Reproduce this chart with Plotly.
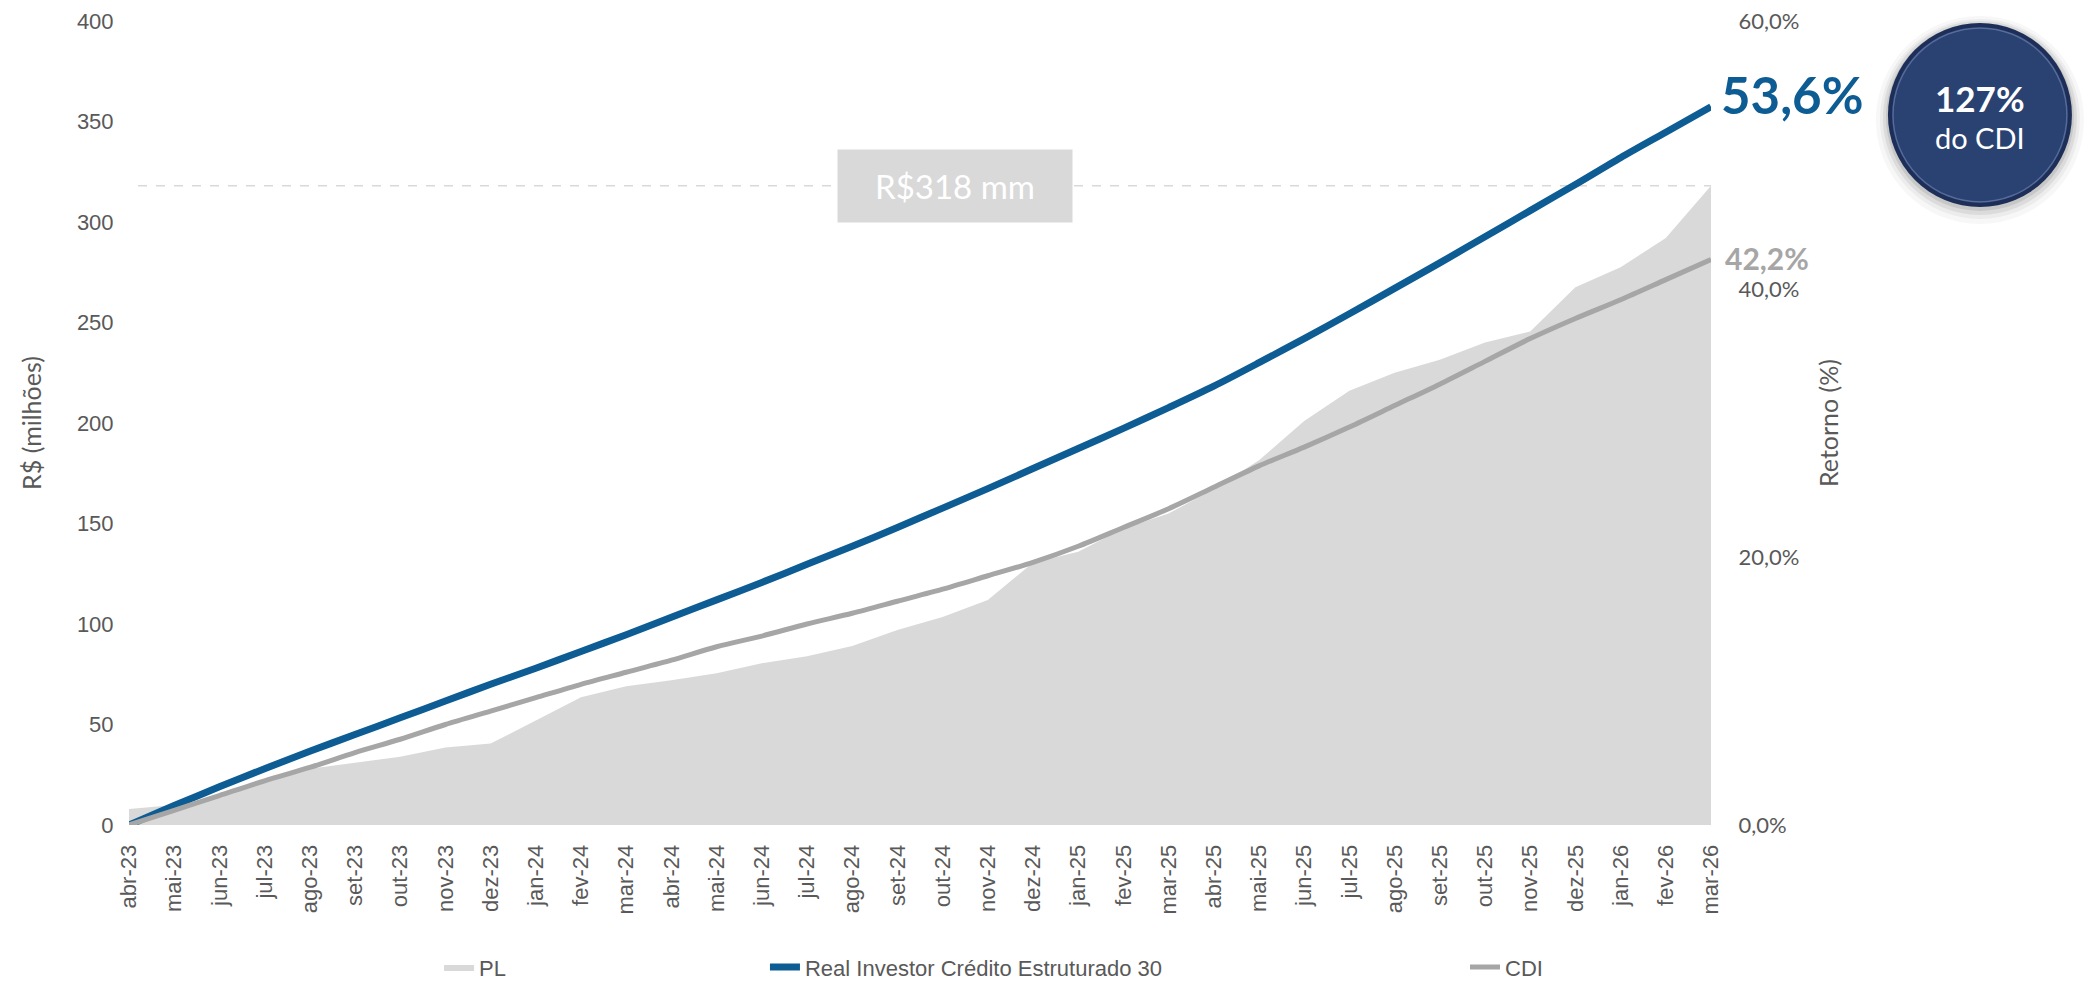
import plotly.graph_objects as go

months = ["abr-23","mai-23","jun-23","jul-23","ago-23","set-23","out-23","nov-23","dez-23",
          "jan-24","fev-24","mar-24","abr-24","mai-24","jun-24","jul-24","ago-24","set-24",
          "out-24","nov-24","dez-24","jan-25","fev-25","mar-25","abr-25","mai-25","jun-25",
          "jul-25","ago-25","set-25","out-25","nov-25","dez-25","jan-26","fev-26","mar-26"]

pl = [8, 10, 14, 21, 28, 31, 34, 38.5, 40.5, 52, 63.5, 69, 72, 75.5, 80.5, 84, 89, 97,
      103.5, 112, 130.5, 136, 147.5, 155, 167, 181.5, 201, 216, 225, 231.5, 240, 245.5,
      267.5, 277.5, 292, 318]

real = [0, 1.45, 2.85, 4.2, 5.5, 6.75, 8.0, 9.25, 10.5, 11.7, 12.95, 14.2, 15.5, 16.8, 18.1,
        19.45, 20.8, 22.2, 23.65, 25.1, 26.6, 28.1, 29.6, 31.15, 32.75, 34.5, 36.3, 38.15,
        40.05, 41.95, 43.9, 45.85, 47.8, 49.8, 51.7, 53.6]

cdi = [0, 1.1, 2.2, 3.3, 4.3, 5.4, 6.4, 7.5, 8.5, 9.5, 10.5, 11.4, 12.3, 13.3, 14.1, 15.0,
       15.8, 16.7, 17.6, 18.6, 19.6, 20.8, 22.2, 23.6, 25.2, 26.8, 28.2, 29.7, 31.3, 32.9,
       34.6, 36.3, 37.8, 39.2, 40.7, 42.2]

left_ticks = [0, 50, 100, 150, 200, 250, 300, 350, 400]
right_ticks = [0, 20, 40, 60]

BLUE = "#0D5C93"
GRAY = "#A6A6A6"
PLFILL = "#D9D9D9"
TXT = "#595959"
NAVY = "#2A4272"


def pct(v):
    return f"{v:.1f}%".replace(".", ",")


fig = go.Figure()
fig.add_trace(go.Scatter(x=months, y=pl, name="PL", mode="lines", fill="tozeroy",
                         fillcolor=PLFILL, line=dict(width=0, color=PLFILL),
                         legend="legend"))
fig.add_trace(go.Scatter(x=months, y=real, name="Real Investor Crédito Estruturado 30",
                         mode="lines", yaxis="y2",
                         line=dict(color=BLUE, width=7, shape="spline", smoothing=0.8),
                         legend="legend2"))
fig.add_trace(go.Scatter(x=months, y=cdi, name="CDI", mode="lines", yaxis="y2",
                         line=dict(color=GRAY, width=5, shape="spline", smoothing=0.8),
                         legend="legend3"))

ratio = round(real[-1] / cdi[-1] * 100)

shapes = [
    dict(type="line", xref="paper", yref="y", x0=0.0057, x1=1.0, y0=pl[-1], y1=pl[-1],
         line=dict(color="#D9D9D9", width=1.5, dash="dash"), layer="below"),
]
# badge: shadow + rim + fill
bx, by = 1.170, 0.8832
for r, op, dy in [(104, 0.04, -5), (100, 0.06, -4), (97, 0.09, -3), (94, 0.12, -2)]:
    shapes.append(dict(type="circle", xref="paper", yref="paper", xsizemode="pixel",
                       ysizemode="pixel", xanchor=bx, yanchor=by, x0=-r, x1=r,
                       y0=-r + dy, y1=r + dy, fillcolor=f"rgba(60,60,60,{op})",
                       line=dict(width=0)))
shapes.append(dict(type="circle", xref="paper", yref="paper", xsizemode="pixel",
                   ysizemode="pixel", xanchor=bx, yanchor=by, x0=-92, x1=92, y0=-92, y1=92,
                   fillcolor="#1D2F58", line=dict(width=0)))
shapes.append(dict(type="circle", xref="paper", yref="paper", xsizemode="pixel",
                   ysizemode="pixel", xanchor=bx, yanchor=by, x0=-87, x1=87, y0=-87, y1=87,
                   fillcolor=NAVY, line=dict(width=1.5, color="rgba(120,140,190,0.6)")))

annotations = [
    dict(x=months[-1], y=real[-1], xref="x", yref="y2", text=f"<b>{pct(real[-1])}</b>",
         showarrow=False, xanchor="left", yanchor="middle", xshift=8, yshift=12,
         font=dict(family="Lato, Liberation Sans, sans-serif", size=51, color=BLUE)),
    dict(x=months[-1], y=cdi[-1], xref="x", yref="y2", text=f"<b>{pct(cdi[-1])}</b>",
         showarrow=False, xanchor="left", yanchor="middle", xshift=12, yshift=2,
         font=dict(family="Lato, Liberation Sans, sans-serif", size=30, color=GRAY)),
    dict(x=0.5221, y=pl[-1], xref="paper", yref="y", text=f"R${pl[-1]:.0f} mm",
         showarrow=False, width=234, height=72, bgcolor=PLFILL, borderpad=0,
         align="center", valign="middle",
         font=dict(family="Lato, Liberation Sans, sans-serif", size=33, color="white")),
    dict(x=bx, y=0.9043, xref="paper", yref="paper", text=f"<b>{ratio}%</b>",
         showarrow=False, xanchor="center", yanchor="middle",
         font=dict(family="Lato, Liberation Sans, sans-serif", size=35, color="white")),
    dict(x=bx, y=0.8546, xref="paper", yref="paper", text="do CDI",
         showarrow=False, xanchor="center", yanchor="middle",
         font=dict(family="Lato, Liberation Sans, sans-serif", size=29, color="white")),
]

legend_common = dict(orientation="h", yanchor="middle", y=-0.177, xanchor="left",
                     bgcolor="rgba(0,0,0,0)",
                     font=dict(family="Liberation Sans, Arial, sans-serif", size=22, color=TXT))

fig.update_layout(
    width=2085, height=983,
    margin=dict(l=129, r=374, t=21, b=157.5, autoexpand=False),
    paper_bgcolor="white", plot_bgcolor="white",
    separators=",.",
    showlegend=True,
    legend=dict(x=0.196, **legend_common),
    legend2=dict(x=0.402, **legend_common),
    legend3=dict(x=0.8445, **legend_common),
    xaxis=dict(type="category", range=[0, len(months) - 1], tickangle=-90,
               showgrid=False, zeroline=False, showline=False,
               ticks="outside", ticklen=10, tickcolor="rgba(0,0,0,0)",
               tickfont=dict(family="Liberation Sans, Arial, sans-serif", size=22, color=TXT)),
    yaxis=dict(range=[0, 400], tickvals=left_ticks, showgrid=False, zeroline=False,
               ticks="outside", ticklen=10, tickcolor="rgba(0,0,0,0)",
               tickfont=dict(family="Liberation Sans, Arial, sans-serif", size=22, color=TXT),
               title=dict(text="R$ (milhões)", standoff=28,
                          font=dict(family="Lato, Liberation Sans, sans-serif", size=25, color=TXT))),
    yaxis2=dict(range=[0, 60], tickvals=right_ticks, ticktext=[pct(v) for v in right_ticks],
                overlaying="y", side="right", showgrid=False, zeroline=False,
                ticks="outside", ticklen=22, tickcolor="rgba(0,0,0,0)",
                tickfont=dict(family="Lato, Liberation Sans, sans-serif", size=22, color=TXT),
                title=dict(text="Retorno (%)", standoff=22,
                           font=dict(family="Lato, Liberation Sans, sans-serif", size=25, color=TXT))),
    shapes=shapes,
    annotations=annotations,
)

fig.write_html("out.html", config={"displayModeBar": False},
               post_script="document.body.style.margin='0';document.body.style.overflow='hidden';")
